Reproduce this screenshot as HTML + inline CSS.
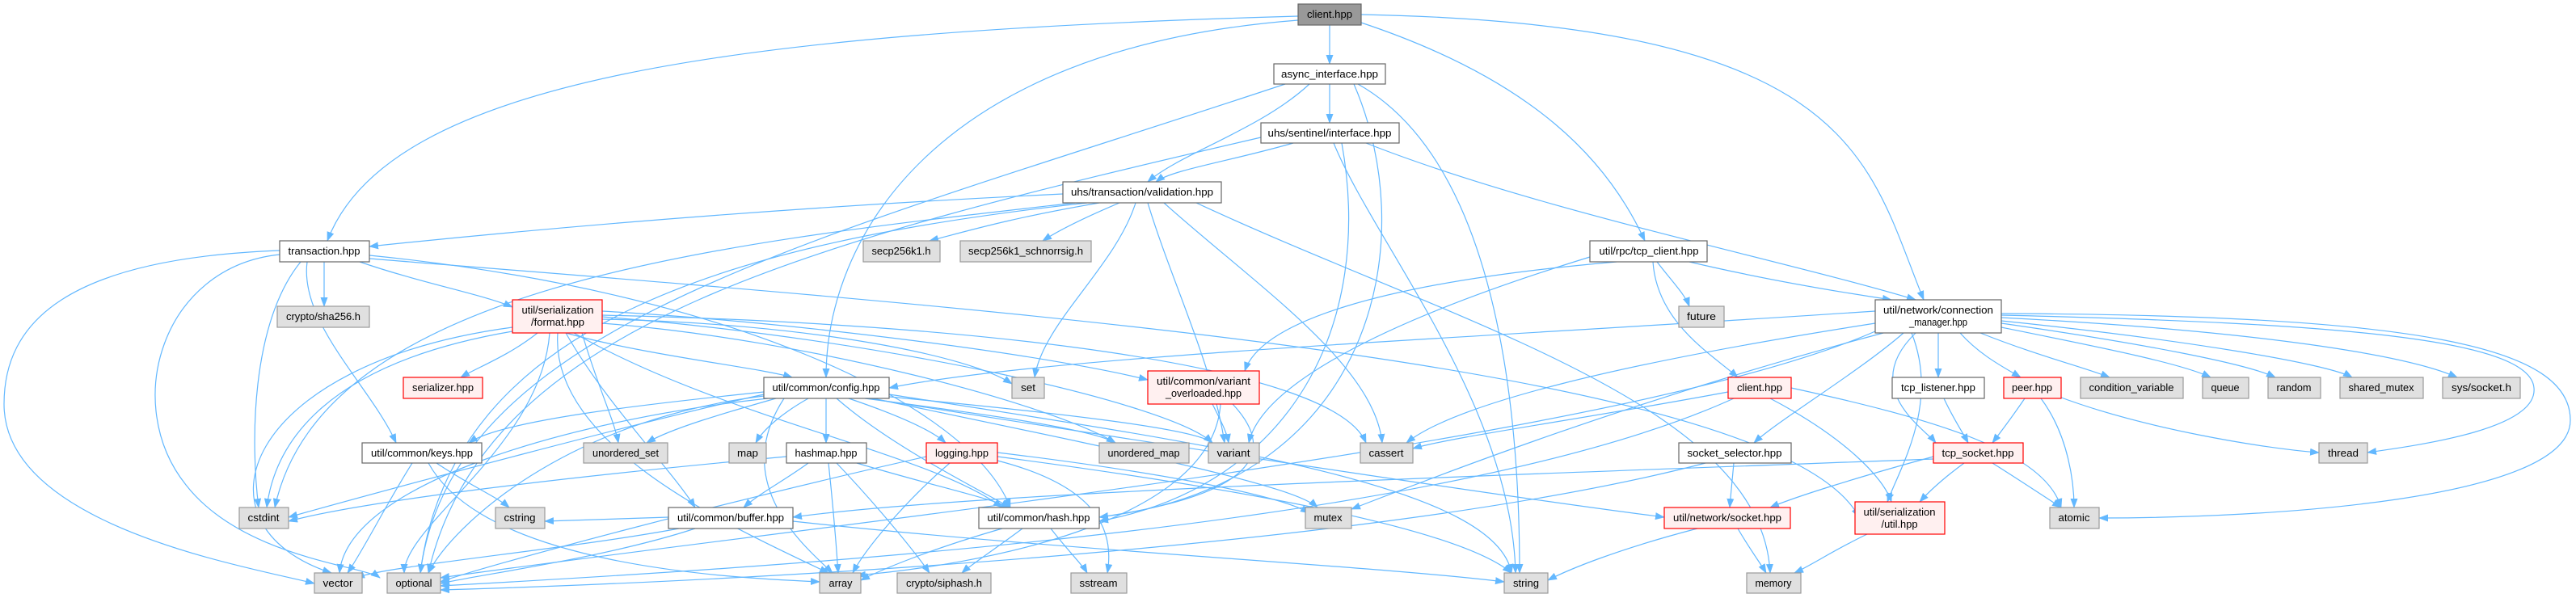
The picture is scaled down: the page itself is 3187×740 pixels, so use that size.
<!DOCTYPE html>
<html><head><meta charset="utf-8"><style>
html,body{margin:0;padding:0;background:#fff;}
svg{display:block}
text{font-family:"Liberation Sans",Arial,sans-serif;font-size:13px;fill:#000;text-anchor:middle}
.e{fill:none;stroke:#63b8ff;stroke-width:1.2}
.w{fill:#fff;stroke:#666;stroke-width:1.2}
.g{fill:#e0e0e0;stroke:#999;stroke-width:1.2}
.r{fill:#fff0f0;stroke:#ff0000;stroke-width:1.2}
.m{fill:#999;stroke:#666;stroke-width:1.2}
</style></head><body>
<svg width="3187" height="740" viewBox="0 0 3187 740" xmlns="http://www.w3.org/2000/svg">
<defs><marker id="a" markerWidth="12" markerHeight="12" refX="11" refY="6" orient="auto" markerUnits="userSpaceOnUse"><path d="M0,1.5 L12,6 L0,10.5z" fill="#63b8ff"/></marker></defs>
<g class="e" marker-end="url(#a)">
<path d="M1645 31 L1645 79"/>
<path d="M1606 20 C900 40 480 100 405 298"/>
<path d="M1606 25 C1150 60 1022 300 1022 467"/>
<path d="M1684 28 C1900 100 1990 200 2035 298"/>
<path d="M1684 18 C2300 30 2310 200 2380 371"/>
<path d="M1620 104 C1560 160 1460 190 1420 225"/>
<path d="M1645 104 L1645 152"/>
<path d="M1590 104 C1000 300 560 400 520 709"/>
<path d="M1680 104 C1850 200 1880 500 1880 709"/>
<path d="M1675 104 C1760 300 1700 600 1360 640"/>
<path d="M1600 177 C1520 200 1450 210 1430 225"/>
<path d="M1560 170 C1000 300 600 400 530 709"/>
<path d="M1690 177 C1900 260 2200 320 2370 371"/>
<path d="M1650 177 C1700 300 1870 500 1875 709"/>
<path d="M1660 177 C1700 400 1600 600 1360 645"/>
<path d="M1315 240 C900 260 600 290 457 305"/>
<path d="M1360 251 C1250 270 1200 285 1150 298"/>
<path d="M1385 251 C1340 270 1310 285 1290 298"/>
<path d="M1405 251 C1380 330 1290 400 1280 467"/>
<path d="M1420 251 C1450 350 1500 450 1515 548"/>
<path d="M1440 251 C1550 350 1700 450 1710 548"/>
<path d="M1480 251 C1800 400 2180 500 2190 709"/>
<path d="M1330 251 C900 300 400 350 340 628"/>
<path d="M1345 251 C900 300 560 400 520 709"/>
<path d="M401 324 L401 379"/>
<path d="M445 324 C520 350 600 365 634 380"/>
<path d="M380 324 C370 400 460 480 490 548"/>
<path d="M372 324 C310 400 310 550 320 628"/>
<path d="M346 315 C200 330 150 500 230 600 C300 690 450 700 470 715"/>
<path d="M346 310 C80 320 5 400 5 500 C5 650 300 700 389 722"/>
<path d="M457 320 C1200 380 2200 450 2300 640"/>
<path d="M457 316 C900 360 1200 500 1250 628"/>
<path d="M665 412 C630 440 590 455 570 467"/>
<path d="M700 412 C800 440 940 455 980 467"/>
<path d="M745 385 C1000 400 1300 440 1420 470"/>
<path d="M745 395 C1000 400 1200 440 1252 475"/>
<path d="M720 412 C740 480 760 520 765 548"/>
<path d="M745 400 C1000 420 1300 500 1380 548"/>
<path d="M745 392 C1100 420 1450 500 1500 548"/>
<path d="M745 390 C1200 400 1650 450 1690 548"/>
<path d="M690 412 C680 550 900 650 1025 709"/>
<path d="M680 412 C670 550 500 650 500 709"/>
<path d="M634 405 C300 450 230 650 410 709"/>
<path d="M634 410 C400 450 340 550 330 628"/>
<path d="M700 412 C750 500 830 580 860 628"/>
<path d="M710 412 C900 520 1150 560 1240 628"/>
<path d="M945 485 C800 500 620 520 580 548"/>
<path d="M960 493 C900 510 830 530 800 548"/>
<path d="M1000 493 C970 510 945 530 935 548"/>
<path d="M1022 493 L1022 548"/>
<path d="M1050 493 C1100 510 1150 530 1170 548"/>
<path d="M1070 493 C1200 510 1350 530 1380 548"/>
<path d="M1090 490 C1300 510 1480 530 1500 548"/>
<path d="M1035 493 C1100 550 1200 600 1250 628"/>
<path d="M1075 493 C1500 560 1900 620 2059 640"/>
<path d="M1080 493 C1400 560 1600 600 1630 628"/>
<path d="M1100 488 C1500 550 1850 600 1870 709"/>
<path d="M945 490 C700 520 560 650 530 709"/>
<path d="M950 493 C700 520 430 600 420 709"/>
<path d="M970 493 C900 600 1000 680 1030 709"/>
<path d="M945 488 C800 520 500 600 357 640"/>
<path d="M510 573 C480 620 450 680 430 709"/>
<path d="M540 573 C580 600 615 615 630 628"/>
<path d="M530 573 C600 700 900 715 1014 720"/>
<path d="M1000 573 C970 595 940 610 920 628"/>
<path d="M1060 573 C1150 600 1220 615 1250 628"/>
<path d="M1025 573 C1030 620 1035 680 1037 709"/>
<path d="M1035 573 C1080 620 1130 680 1150 709"/>
<path d="M973 565 C700 590 450 620 357 645"/>
<path d="M1175 573 C1120 620 1070 680 1055 709"/>
<path d="M1146 565 C900 620 600 700 545 720"/>
<path d="M1234 565 C1500 600 1800 650 1870 709"/>
<path d="M1234 570 C1350 600 1380 650 1370 709"/>
<path d="M1234 560 C1400 580 1580 610 1620 635"/>
<path d="M840 654 C700 680 480 700 440 715"/>
<path d="M860 654 C750 690 600 710 545 722"/>
<path d="M981 645 C1300 680 1700 700 1861 720"/>
<path d="M827 640 C760 642 700 644 674 645"/>
<path d="M1240 654 C1150 680 1090 705 1065 718"/>
<path d="M1265 654 C1230 680 1200 700 1190 709"/>
<path d="M1300 654 C1320 680 1340 700 1345 709"/>
<path d="M1500 500 C1510 520 1518 535 1520 548"/>
<path d="M1525 500 C1600 580 1500 620 1360 640"/>
<path d="M1510 500 C1500 650 1200 700 1060 712"/>
<path d="M2050 324 C2070 350 2085 365 2090 379"/>
<path d="M2045 324 C2050 400 2120 440 2150 467"/>
<path d="M2090 324 C2200 350 2300 365 2340 371"/>
<path d="M2000 324 C1700 350 1560 400 1540 459"/>
<path d="M1967 318 C1700 400 1560 480 1545 548"/>
<path d="M2320 385 C1800 420 1300 440 1100 480"/>
<path d="M2320 400 C2000 450 1800 500 1740 548"/>
<path d="M2398 412 L2398 467"/>
<path d="M2425 412 C2450 440 2480 455 2500 467"/>
<path d="M2450 412 C2520 440 2580 455 2610 467"/>
<path d="M2476 405 C2600 430 2700 450 2735 467"/>
<path d="M2476 400 C2650 425 2780 450 2815 467"/>
<path d="M2476 397 C2700 420 2880 450 2910 467"/>
<path d="M2476 393 C2800 410 2980 440 3040 467"/>
<path d="M2476 390 C2900 400 3130 420 3135 480 C3140 530 3000 550 2929 560"/>
<path d="M2476 388 C3000 390 3180 430 3180 520 C3180 620 2800 641 2597 641"/>
<path d="M2355 412 C2300 460 2200 520 2170 548"/>
<path d="M2370 412 C2300 480 2380 530 2395 548"/>
<path d="M2365 412 C2400 500 2350 580 2335 621"/>
<path d="M2330 412 C2000 500 1750 600 1672 630"/>
<path d="M2320 410 C2000 550 1000 650 545 715"/>
<path d="M2138 485 C1950 520 1800 540 1748 555"/>
<path d="M2216 480 C2400 520 2530 560 2550 628"/>
<path d="M2190 493 C2280 540 2330 590 2340 621"/>
<path d="M2145 493 C1800 650 1000 700 545 725"/>
<path d="M2405 493 C2415 515 2428 535 2435 548"/>
<path d="M2505 493 C2490 515 2475 535 2465 548"/>
<path d="M2525 493 C2560 540 2566 600 2566 628"/>
<path d="M2545 490 C2650 530 2800 555 2869 560"/>
<path d="M2145 573 C2143 595 2141 615 2140 628"/>
<path d="M2110 573 C1700 680 900 720 545 730"/>
<path d="M2392 565 C2300 590 2220 615 2190 628"/>
<path d="M2465 573 C2500 595 2530 615 2550 628"/>
<path d="M2430 573 C2400 595 2385 610 2375 621"/>
<path d="M2392 568 C1800 590 1200 610 981 640"/>
<path d="M2100 654 C2000 680 1940 705 1915 718"/>
<path d="M2150 654 C2165 680 2180 700 2185 709"/>
<path d="M2310 661 C2270 680 2240 700 2220 709"/>
</g>
<g>
<rect class="m" x="1606" y="5" width="78" height="26"/><text x="1645" y="22" textLength="56" lengthAdjust="spacingAndGlyphs">client.hpp</text>
<rect class="w" x="1576" y="79" width="138" height="25"/><text x="1645" y="96" textLength="120" lengthAdjust="spacingAndGlyphs">async_interface.hpp</text>
<rect class="w" x="1560" y="152" width="171" height="25"/><text x="1645" y="169" textLength="153" lengthAdjust="spacingAndGlyphs">uhs/sentinel/interface.hpp</text>
<rect class="w" x="1315" y="225" width="196" height="26"/><text x="1413" y="242" textLength="176" lengthAdjust="spacingAndGlyphs">uhs/transaction/validation.hpp</text>
<rect class="w" x="346" y="298" width="111" height="26"/><text x="401" y="315" textLength="89" lengthAdjust="spacingAndGlyphs">transaction.hpp</text>
<rect class="g" x="1068" y="298" width="95" height="26"/><text x="1115" y="315" textLength="73" lengthAdjust="spacingAndGlyphs">secp256k1.h</text>
<rect class="g" x="1188" y="298" width="162" height="26"/><text x="1269" y="315" textLength="142" lengthAdjust="spacingAndGlyphs">secp256k1_schnorrsig.h</text>
<rect class="w" x="1967" y="298" width="145" height="26"/><text x="2040" y="315" textLength="123" lengthAdjust="spacingAndGlyphs">util/rpc/tcp_client.hpp</text>
<rect class="g" x="343" y="379" width="114" height="26"/><text x="400" y="396" textLength="92" lengthAdjust="spacingAndGlyphs">crypto/sha256.h</text>
<rect class="r" x="634" y="371" width="111" height="41"/><text x="690" y="388" textLength="89" lengthAdjust="spacingAndGlyphs">util/serialization</text><text x="690" y="403" textLength="66" lengthAdjust="spacingAndGlyphs">/format.hpp</text>
<rect class="g" x="2077" y="379" width="56" height="26"/><text x="2105" y="396" textLength="36" lengthAdjust="spacingAndGlyphs">future</text>
<rect class="w" x="2320" y="371" width="156" height="41"/><text x="2398" y="388" textLength="136" lengthAdjust="spacingAndGlyphs">util/network/connection</text><text x="2398" y="403" textLength="72" lengthAdjust="spacingAndGlyphs">_manager.hpp</text>
<rect class="r" x="499" y="467" width="98" height="26"/><text x="548" y="484" textLength="76" lengthAdjust="spacingAndGlyphs">serializer.hpp</text>
<rect class="w" x="945" y="467" width="155" height="26"/><text x="1022" y="484" textLength="133" lengthAdjust="spacingAndGlyphs">util/common/config.hpp</text>
<rect class="g" x="1252" y="467" width="40" height="26"/><text x="1272" y="484" textLength="18" lengthAdjust="spacingAndGlyphs">set</text>
<rect class="r" x="1420" y="459" width="138" height="41"/><text x="1489" y="476" textLength="116" lengthAdjust="spacingAndGlyphs">util/common/variant</text><text x="1489" y="491" textLength="94" lengthAdjust="spacingAndGlyphs">_overloaded.hpp</text>
<rect class="r" x="2138" y="467" width="78" height="26"/><text x="2177" y="484" textLength="56" lengthAdjust="spacingAndGlyphs">client.hpp</text>
<rect class="w" x="2341" y="467" width="114" height="26"/><text x="2398" y="484" textLength="92" lengthAdjust="spacingAndGlyphs">tcp_listener.hpp</text>
<rect class="r" x="2479" y="467" width="71" height="26"/><text x="2514" y="484" textLength="50" lengthAdjust="spacingAndGlyphs">peer.hpp</text>
<rect class="g" x="2574" y="467" width="127" height="26"/><text x="2637" y="484" textLength="105" lengthAdjust="spacingAndGlyphs">condition_variable</text>
<rect class="g" x="2725" y="467" width="57" height="26"/><text x="2753" y="484" textLength="35" lengthAdjust="spacingAndGlyphs">queue</text>
<rect class="g" x="2806" y="467" width="65" height="26"/><text x="2838" y="484" textLength="43" lengthAdjust="spacingAndGlyphs">random</text>
<rect class="g" x="2895" y="467" width="103" height="26"/><text x="2946" y="484" textLength="81" lengthAdjust="spacingAndGlyphs">shared_mutex</text>
<rect class="g" x="3022" y="467" width="96" height="26"/><text x="3070" y="484" textLength="74" lengthAdjust="spacingAndGlyphs">sys/socket.h</text>
<rect class="w" x="448" y="548" width="148" height="25"/><text x="522" y="565" textLength="126" lengthAdjust="spacingAndGlyphs">util/common/keys.hpp</text>
<rect class="g" x="722" y="548" width="104" height="25"/><text x="774" y="565" textLength="82" lengthAdjust="spacingAndGlyphs">unordered_set</text>
<rect class="g" x="902" y="548" width="46" height="25"/><text x="925" y="565" textLength="26" lengthAdjust="spacingAndGlyphs">map</text>
<rect class="w" x="973" y="548" width="99" height="25"/><text x="1022" y="565" textLength="77" lengthAdjust="spacingAndGlyphs">hashmap.hpp</text>
<rect class="r" x="1146" y="548" width="88" height="25"/><text x="1190" y="565" textLength="66" lengthAdjust="spacingAndGlyphs">logging.hpp</text>
<rect class="g" x="1360" y="548" width="111" height="25"/><text x="1415" y="565" textLength="89" lengthAdjust="spacingAndGlyphs">unordered_map</text>
<rect class="g" x="1495" y="548" width="63" height="25"/><text x="1526" y="565" textLength="41" lengthAdjust="spacingAndGlyphs">variant</text>
<rect class="g" x="1683" y="548" width="65" height="25"/><text x="1715" y="565" textLength="43" lengthAdjust="spacingAndGlyphs">cassert</text>
<rect class="w" x="2077" y="548" width="139" height="25"/><text x="2146" y="565" textLength="117" lengthAdjust="spacingAndGlyphs">socket_selector.hpp</text>
<rect class="r" x="2392" y="548" width="111" height="25"/><text x="2447" y="565" textLength="89" lengthAdjust="spacingAndGlyphs">tcp_socket.hpp</text>
<rect class="g" x="2869" y="548" width="60" height="25"/><text x="2899" y="565" textLength="38" lengthAdjust="spacingAndGlyphs">thread</text>
<rect class="g" x="296" y="628" width="61" height="26"/><text x="326" y="645" textLength="39" lengthAdjust="spacingAndGlyphs">cstdint</text>
<rect class="g" x="613" y="628" width="61" height="26"/><text x="643" y="645" textLength="39" lengthAdjust="spacingAndGlyphs">cstring</text>
<rect class="w" x="827" y="628" width="154" height="26"/><text x="904" y="645" textLength="132" lengthAdjust="spacingAndGlyphs">util/common/buffer.hpp</text>
<rect class="w" x="1211" y="628" width="149" height="26"/><text x="1285" y="645" textLength="127" lengthAdjust="spacingAndGlyphs">util/common/hash.hpp</text>
<rect class="g" x="1615" y="628" width="57" height="26"/><text x="1643" y="645" textLength="35" lengthAdjust="spacingAndGlyphs">mutex</text>
<rect class="r" x="2059" y="628" width="156" height="26"/><text x="2137" y="645" textLength="134" lengthAdjust="spacingAndGlyphs">util/network/socket.hpp</text>
<rect class="r" x="2295" y="621" width="111" height="40"/><text x="2350" y="638" textLength="89" lengthAdjust="spacingAndGlyphs">util/serialization</text><text x="2350" y="653" textLength="45" lengthAdjust="spacingAndGlyphs">/util.hpp</text>
<rect class="g" x="2536" y="628" width="61" height="26"/><text x="2566" y="645" textLength="39" lengthAdjust="spacingAndGlyphs">atomic</text>
<rect class="g" x="389" y="709" width="59" height="25"/><text x="418" y="726" textLength="37" lengthAdjust="spacingAndGlyphs">vector</text>
<rect class="g" x="479" y="709" width="66" height="25"/><text x="512" y="726" textLength="45" lengthAdjust="spacingAndGlyphs">optional</text>
<rect class="g" x="1014" y="709" width="51" height="25"/><text x="1040" y="726" textLength="29" lengthAdjust="spacingAndGlyphs">array</text>
<rect class="g" x="1110" y="709" width="116" height="25"/><text x="1168" y="726" textLength="94" lengthAdjust="spacingAndGlyphs">crypto/siphash.h</text>
<rect class="g" x="1325" y="709" width="69" height="25"/><text x="1359" y="726" textLength="47" lengthAdjust="spacingAndGlyphs">sstream</text>
<rect class="g" x="1861" y="709" width="54" height="25"/><text x="1888" y="726" textLength="32" lengthAdjust="spacingAndGlyphs">string</text>
<rect class="g" x="2161" y="709" width="67" height="25"/><text x="2194" y="726" textLength="45" lengthAdjust="spacingAndGlyphs">memory</text>
</g>
</svg>
</body></html>
